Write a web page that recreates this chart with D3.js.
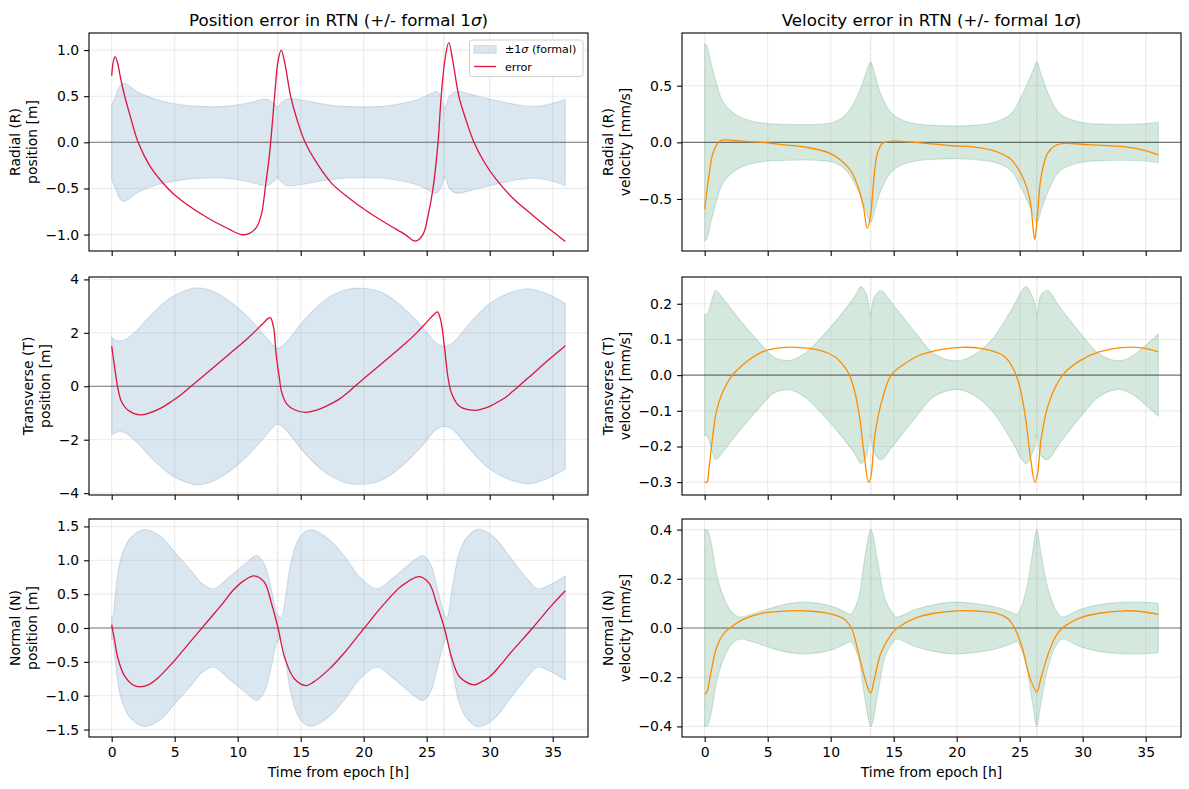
<!DOCTYPE html>
<html><head><meta charset="utf-8">
<script src="https://cdn.jsdelivr.net/npm/d3@7"></script>
<style>body{margin:0;background:#fff} text{font-family:"DejaVu Sans",sans-serif;fill:#000}</style>
</head><body><svg id="c" width="1189" height="789"></svg>
<script>
// ---------------- data (hours from epoch) ----------------
const hourTicks = [0, 5, 10, 15, 20, 25, 30, 35];
const perigeeHours = [13.18, 26.36];

// Radial position [m]
const posR_sigT = [0, 0.3, 0.6, 0.9, 1.3, 2.0, 3.0, 3.9, 5.4, 7, 9, 10.6, 11.5, 12.1, 12.5, 12.9, 13.15, 13.4, 13.9, 15.4, 17, 18.5, 21.5, 23, 24.2, 24.9, 25.5, 25.8, 26.1, 26.45, 26.8, 27.3, 28, 29.1, 30.6, 32.5, 33.7, 35.2, 36];
const posR_sig = [0.4, 0.5, 0.6, 0.64, 0.62, 0.55, 0.49, 0.45, 0.41, 0.39, 0.39, 0.42, 0.45, 0.47, 0.46, 0.42, 0.38, 0.42, 0.47, 0.45, 0.41, 0.39, 0.39, 0.42, 0.46, 0.5, 0.54, 0.55, 0.5, 0.38, 0.5, 0.55, 0.54, 0.5, 0.45, 0.4, 0.39, 0.43, 0.47];
const posR_errT = [0, 0.12, 0.27, 0.45, 0.7, 1.0, 1.5, 2.1, 3.0, 4.0, 5.0, 7.5, 9.3, 10.3, 10.9, 11.5, 11.9, 12.2, 12.5, 12.7, 12.93, 13.2, 13.45, 13.75, 14.2, 14.7, 15.35, 16.4, 17.5, 18.8, 20.3, 21.8, 23.3, 24.1, 24.7, 25.1, 25.5, 25.9, 26.15, 26.45, 26.75, 27.05, 27.55, 28.1, 28.75, 29.5, 30.5, 31.8, 33.5, 35.3, 36];
const posR_err = [0.72, 0.87, 0.93, 0.87, 0.7, 0.52, 0.27, 0, -0.25, -0.43, -0.57, -0.81, -0.94, -1.0, -0.99, -0.92, -0.77, -0.48, -0.16, 0.13, 0.5, 0.88, 1.0, 0.85, 0.5, 0.25, 0, -0.25, -0.45, -0.6, -0.75, -0.88, -1.0, -1.07, -1.0, -0.8, -0.5, 0, 0.5, 0.9, 1.08, 0.9, 0.5, 0.25, 0, -0.2, -0.4, -0.6, -0.8, -1.0, -1.075];

// Radial velocity [mm/s]
const velR_sigT = [0, 0.18, 0.5, 0.94, 1.4, 2.15, 3.06, 4.6, 6.1, 9.1, 10.3, 11.25, 12.16, 12.77, 13.16, 13.5, 14.0, 14.9, 16.1, 18.2, 21.3, 23.1, 24.3, 25.2, 26.0, 26.36, 26.7, 27.3, 28.2, 29.75, 31.9, 34.9, 36];
const velR_sig = [0.87, 0.85, 0.7, 0.52, 0.37, 0.27, 0.21, 0.17, 0.16, 0.16, 0.18, 0.25, 0.42, 0.6, 0.71, 0.6, 0.42, 0.25, 0.18, 0.15, 0.15, 0.18, 0.25, 0.42, 0.62, 0.71, 0.6, 0.42, 0.25, 0.18, 0.16, 0.165, 0.18];
const velR_errT = [0, 0.15, 0.33, 0.64, 1.1, 1.4, 2.0, 3, 4.6, 6.1, 7.9, 10.0, 11.56, 12.16, 12.6, 12.9, 13.16, 13.4, 13.7, 14.1, 14.9, 16.7, 19.7, 21.3, 23.1, 24.3, 25.2, 25.8, 26.1, 26.2, 26.4, 26.7, 27.2, 27.8, 28.5, 30.4, 33.4, 34.9, 36];
const velR_err = [-0.59, -0.45, -0.3, -0.1, 0.0, 0.02, 0.02, 0.01, 0.0, -0.02, -0.04, -0.1, -0.245, -0.39, -0.57, -0.76, -0.65, -0.35, -0.1, -0.01, 0.01, 0.0, -0.03, -0.04, -0.08, -0.15, -0.3, -0.5, -0.8, -0.86, -0.65, -0.3, -0.1, -0.03, -0.01, -0.02, -0.04, -0.07, -0.11];

// Transverse position [m]
const posT_sigT = [0, 0.25, 0.5, 1.1, 2.0, 3.3, 4.8, 6.3, 6.75, 7.8, 9.3, 10.9, 12.4, 13.15, 13.75, 15.4, 17, 18.5, 20, 21.5, 23, 24.6, 25.8, 26.4, 27, 28.5, 30, 31.6, 33.1, 34.6, 36];
const posT_sig = [1.83, 1.75, 1.7, 1.75, 2.1, 2.75, 3.35, 3.65, 3.69, 3.6, 3.2, 2.55, 1.75, 1.42, 1.6, 2.55, 3.25, 3.6, 3.67, 3.5, 3.0, 2.25, 1.6, 1.5, 1.6, 2.4, 3.1, 3.5, 3.65, 3.45, 3.1];
const posT_errT = [0, 0.2, 0.36, 0.5, 0.8, 1.3, 2.2, 3.0, 3.9, 4.8, 5.6, 6.3, 7.7, 9.2, 10.8, 11.9, 12.45, 12.6, 12.85, 13.05, 13.3, 13.5, 13.9, 14.5, 15.4, 16.2, 17, 18, 18.7, 19.3, 20.3, 21.3, 22.3, 23.3, 24.2, 25.0, 25.6, 25.85, 26.1, 26.4, 26.7, 27, 27.6, 28.8, 29.4, 30.0, 30.6, 31.3, 31.8, 32.3, 33.5, 34.7, 36];
const posT_err = [1.5, 0.82, 0.3, -0.1, -0.6, -0.9, -1.07, -1.0, -0.82, -0.55, -0.28, 0.0, 0.55, 1.15, 1.8, 2.3, 2.55, 2.57, 2.2, 1.2, 0.33, -0.24, -0.67, -0.88, -0.98, -0.9, -0.75, -0.5, -0.25, 0.0, 0.4, 0.8, 1.2, 1.6, 2.0, 2.4, 2.7, 2.78, 2.5, 1.5, 0.3, -0.3, -0.75, -0.9, -0.85, -0.75, -0.6, -0.4, -0.2, 0.0, 0.5, 1.0, 1.52];

// Transverse velocity [mm/s]
const velT_sigT = [0, 0.18, 0.64, 0.88, 1.55, 3.06, 4.58, 5.5, 6.7, 7.9, 9.1, 10.6, 11.9, 12.4, 12.8, 13.0, 13.16, 13.3, 13.5, 14.0, 14.9, 16.7, 18.2, 20.0, 21.3, 22.8, 24.3, 25.5, 26.0, 26.2, 26.36, 26.5, 26.7, 27.2, 28.2, 29.75, 31.3, 32.9, 34, 35.2, 36];
const velT_sig = [0.17, 0.17, 0.22, 0.237, 0.21, 0.143, 0.082, 0.05, 0.041, 0.06, 0.1, 0.16, 0.22, 0.248, 0.23, 0.2, 0.165, 0.2, 0.22, 0.237, 0.2, 0.12, 0.06, 0.04, 0.055, 0.1, 0.18, 0.248, 0.22, 0.2, 0.165, 0.2, 0.225, 0.237, 0.19, 0.12, 0.06, 0.04, 0.055, 0.09, 0.115];
const velT_errT = [0, 0.18, 0.35, 0.64, 0.94, 1.4, 2.2, 3.06, 4.58, 6.1, 7.3, 9.1, 10.3, 10.9, 11.35, 11.7, 12.0, 12.3, 12.65, 13.0, 13.16, 13.5, 14.0, 14.8, 15.8, 17, 18.8, 20.35, 21.9, 23.7, 24.2, 24.6, 24.9, 25.2, 25.5, 25.85, 26.2, 26.4, 26.7, 27.3, 28.4, 29.75, 31.3, 33.4, 34.9, 36];
const velT_err = [-0.3, -0.3, -0.26, -0.17, -0.1, -0.05, 0.0, 0.03, 0.065, 0.077, 0.078, 0.07, 0.052, 0.032, 0.01, -0.02, -0.06, -0.12, -0.22, -0.3, -0.29, -0.17, -0.08, 0.0, 0.03, 0.055, 0.072, 0.078, 0.075, 0.055, 0.035, 0.01, -0.02, -0.065, -0.13, -0.23, -0.3, -0.28, -0.18, -0.08, 0.0, 0.04, 0.065, 0.078, 0.075, 0.065];

// Normal position [m]
const posN_sigT = [0, 0.1, 0.2, 0.5, 0.8, 1.4, 2.3, 2.8, 3.9, 5.1, 6.3, 7.2, 8.1, 9.3, 10.6, 11.5, 12.1, 12.7, 13.15, 13.45, 13.75, 14.2, 14.8, 15.4, 15.9, 17.3, 18.5, 19.7, 21.05, 22.4, 24.0, 24.7, 25.3, 25.9, 26.4, 26.6, 27.0, 27.6, 28.2, 29.1, 30.3, 31.6, 33.1, 33.8, 34.9, 36];
const posN_sig = [0.19, 0.16, 0.33, 0.82, 1.07, 1.31, 1.44, 1.45, 1.35, 1.1, 0.85, 0.65, 0.58, 0.75, 0.95, 1.07, 0.95, 0.55, 0.2, 0.15, 0.4, 0.95, 1.3, 1.43, 1.45, 1.3, 1.05, 0.75, 0.58, 0.75, 1.0, 1.07, 0.95, 0.55, 0.2, 0.15, 0.57, 1.12, 1.34, 1.46, 1.35, 1.05, 0.7, 0.58, 0.65, 0.77];
const posN_errT = [0, 0.2, 0.5, 1.0, 1.6, 2.2, 2.9, 3.6, 4.8, 5.8, 6.8, 7.8, 8.8, 9.6, 10.5, 11.3, 12.1, 12.7, 13.2, 13.75, 14.5, 15.4, 16.0, 17.3, 18.4, 19.4, 20.05, 21.5, 23, 24.4, 25.2, 25.8, 26.4, 27, 27.6, 28.7, 29.3, 30.0, 30.8, 31.6, 33.4, 34.9, 36];
const posN_err = [0.05, -0.15, -0.45, -0.7, -0.83, -0.87, -0.84, -0.75, -0.52, -0.3, -0.08, 0.14, 0.36, 0.55, 0.7, 0.77, 0.68, 0.35, 0.0, -0.45, -0.75, -0.85, -0.8, -0.6, -0.38, -0.15, 0.0, 0.33, 0.62, 0.76, 0.66, 0.35, 0.0, -0.45, -0.72, -0.84, -0.8, -0.72, -0.56, -0.38, 0.0, 0.33, 0.55];

// Normal velocity [mm/s]
const velN_sigT = [0, 0.18, 0.5, 0.94, 1.55, 2.15, 2.76, 3.7, 5.2, 6.7, 7.9, 9.1, 10.3, 11.25, 11.6, 12.2, 12.6, 13.2, 13.7, 14.3, 14.9, 15.2, 16.7, 18.2, 19.7, 21.3, 23.1, 24.3, 24.8, 25.5, 26.0, 26.36, 26.7, 27.3, 27.9, 28.4, 29.75, 31.3, 33.4, 34.9, 36];
const velN_sig = [0.4, 0.4, 0.35, 0.22, 0.12, 0.065, 0.045, 0.055, 0.08, 0.1, 0.105, 0.1, 0.085, 0.062, 0.057, 0.12, 0.25, 0.4, 0.28, 0.12, 0.06, 0.045, 0.075, 0.095, 0.105, 0.1, 0.085, 0.065, 0.057, 0.15, 0.3, 0.4, 0.3, 0.15, 0.07, 0.045, 0.075, 0.095, 0.105, 0.105, 0.1];
const velN_errT = [0, 0.18, 0.5, 0.94, 1.55, 2.0, 3.06, 4.6, 6.7, 8.5, 9.7, 10.95, 11.3, 11.65, 12.2, 12.8, 13.16, 13.5, 14.0, 14.9, 15.3, 16.7, 18.2, 20, 21.9, 23.1, 24.0, 24.3, 24.6, 25.2, 25.8, 26.36, 26.7, 27.3, 27.9, 28.4, 29.75, 31.3, 33.4, 34.9, 36];
const velN_err = [-0.27, -0.26, -0.18, -0.08, -0.02, 0.0, 0.035, 0.06, 0.07, 0.068, 0.06, 0.04, 0.025, 0.0, -0.1, -0.22, -0.265, -0.2, -0.1, -0.02, 0.0, 0.04, 0.06, 0.07, 0.068, 0.06, 0.04, 0.025, 0.0, -0.08, -0.2, -0.26, -0.2, -0.1, -0.03, 0.0, 0.04, 0.06, 0.07, 0.065, 0.055];

// axis ticks
const posR_ticks = [-1.0, -0.5, 0.0, 0.5, 1.0];
const velR_ticks = [-0.5, 0.0, 0.5];
const posT_ticks = [-4, -2, 0, 2, 4];
const velT_ticks = [-0.3, -0.2, -0.1, 0.0, 0.1, 0.2];
const posN_ticks = [-1.5, -1.0, -0.5, 0.0, 0.5, 1.0, 1.5];
const velN_ticks = [-0.4, -0.2, 0.0, 0.2, 0.4];

const titles = ["Position error in RTN (+/- formal 1", "Velocity error in RTN (+/- formal 1"];
const xLabel = "Time from epoch [h]";

// ---------------- layout ----------------
const svg = d3.select("#c");
const colLeft = [89, 682], colW = 499;
const rowTop = [33, 277, 519], rowH = 218;

const panels = [
  {col:0,row:0,sigT:posR_sigT,sig:posR_sig,errT:posR_errT,err:posR_err,dom:[-1.178,1.185],ticks:posR_ticks,fmt:".1f",lab:["Radial (R)","position [m]"]},
  {col:1,row:0,sigT:velR_sigT,sig:velR_sig,errT:velR_errT,err:velR_err,dom:[-0.959,0.965],ticks:velR_ticks,fmt:".1f",lab:["Radial (R)","velocity [mm/s]"]},
  {col:0,row:1,sigT:posT_sigT,sig:posT_sig,errT:posT_errT,err:posT_err,dom:[-4.07,4.09],ticks:posT_ticks,fmt:"d",lab:["Transverse (T)","position [m]"]},
  {col:1,row:1,sigT:velT_sigT,sig:velT_sig,errT:velT_errT,err:velT_err,dom:[-0.336,0.275],ticks:velT_ticks,fmt:".1f",lab:["Transverse (T)","velocity [mm/s]"]},
  {col:0,row:2,sigT:posN_sigT,sig:posN_sig,errT:posN_errT,err:posN_err,dom:[-1.61,1.61],ticks:posN_ticks,fmt:".1f",lab:["Normal (N)","position [m]"]},
  {col:1,row:2,sigT:velN_sigT,sig:velN_sig,errT:velN_errT,err:velN_err,dom:[-0.443,0.443],ticks:velN_ticks,fmt:".1f",lab:["Normal (N)","velocity [mm/s]"]}
];
const bandColor = ["steelblue", "seagreen"];
const lineColor = ["crimson", "darkorange"];
const TICK = 13.9;
const smooth = d3.curveCatmullRom.alpha(0.5);

panels.forEach((p, i) => {
  const L = colLeft[p.col], T = rowTop[p.row];
  const x = d3.scaleLinear().domain([-1.8, 37.8]).range([L, L + colW]);
  const y = d3.scaleLinear().domain(p.dom).range([T + rowH, T]);
  const g = svg.append("g");
  const cid = "clip" + i;
  svg.append("clipPath").attr("id", cid).append("rect").attr("x", L).attr("y", T).attr("width", colW).attr("height", rowH);
  const plot = g.append("g").attr("clip-path", `url(#${cid})`);

  // band
  const band = p.sigT.map((t, k) => ({t, s: p.sig[k]}));
  plot.append("path").datum(band)
    .attr("d", d3.area().x(d => x(d.t)).y0(d => y(-d.s)).y1(d => y(d.s)).curve(smooth))
    .attr("fill", bandColor[p.col]).attr("fill-opacity", 0.2)
    .attr("stroke", bandColor[p.col]).attr("stroke-opacity", 0.2).attr("stroke-width", 1.1);

  // grid
  plot.selectAll(".gx").data(hourTicks).join("line")
    .attr("x1", d => x(d)).attr("x2", d => x(d)).attr("y1", T).attr("y2", T + rowH)
    .attr("stroke", "#b0b0b0").attr("stroke-opacity", 0.35).attr("stroke-width", 0.8);
  plot.selectAll(".gy").data(p.ticks).join("line")
    .attr("x1", L).attr("x2", L + colW).attr("y1", d => y(d)).attr("y2", d => y(d))
    .attr("stroke", "#b0b0b0").attr("stroke-opacity", 0.35).attr("stroke-width", 0.8);

  // zero line
  plot.append("line").attr("x1", L).attr("x2", L + colW).attr("y1", y(0)).attr("y2", y(0))
    .attr("stroke", "#000").attr("stroke-opacity", 0.5).attr("stroke-width", 1.1);
  // perigee markers
  plot.selectAll(".pv").data(perigeeHours).join("line")
    .attr("x1", d => x(d)).attr("x2", d => x(d)).attr("y1", T).attr("y2", T + rowH)
    .attr("stroke", "#808080").attr("stroke-opacity", 0.8).attr("stroke-width", 0.8).attr("stroke-dasharray", "0.8,1.4");

  // error line
  const errPts = p.errT.map((t, k) => [t, p.err[k]]);
  plot.append("path").datum(errPts)
    .attr("d", d3.line().x(d => x(d[0])).y(d => y(d[1])).curve(smooth))
    .attr("fill", "none").attr("stroke", lineColor[p.col]).attr("stroke-width", 1.3);

  // axes
  const ya = g.append("g").attr("transform", `translate(${L},0)`)
    .call(d3.axisLeft(y).tickValues(p.ticks).tickSize(4.9).tickPadding(4.9).tickFormat(d3.format(p.fmt)));
  ya.select(".domain").remove();
  ya.selectAll("line").attr("stroke", "#000").attr("stroke-width", 1.1);
  ya.selectAll("text").attr("font-size", TICK).attr("font-family", "DejaVu Sans");
  const xa = g.append("g").attr("transform", `translate(0,${T + rowH})`)
    .call(d3.axisBottom(x).tickValues(hourTicks).tickSize(4.9).tickPadding(4.9).tickFormat(p.row === 2 ? d3.format("d") : () => ""));
  xa.select(".domain").remove();
  xa.selectAll("line").attr("stroke", "#000").attr("stroke-width", 1.1);
  xa.selectAll("text").attr("font-size", TICK).attr("font-family", "DejaVu Sans");

  g.append("rect").attr("x", L).attr("y", T).attr("width", colW).attr("height", rowH)
    .attr("fill", "none").attr("stroke", "#000").attr("stroke-width", 1.1);

  // y label (two lines), placed left of tick labels
  const bb = ya.node().getBBox();
  const edge = L + bb.x - 5.6;
  const cy = T + rowH / 2;
  const base2 = edge - 3.3, base1 = base2 - 16.7;
  [[p.lab[0], base1], [p.lab[1], base2]].forEach(([s, bx]) => {
    g.append("text").attr("transform", `translate(${bx},${cy}) rotate(-90)`)
      .attr("text-anchor", "middle").attr("font-size", TICK).text(s);
  });

  if (p.row === 2) {
    g.append("text").attr("x", L + colW / 2).attr("y", 776.5).attr("text-anchor", "middle")
      .attr("font-size", TICK).text(xLabel);
  }
  if (p.row === 0) {
    const t = g.append("text").attr("x", L + colW / 2).attr("y", 25.5).attr("text-anchor", "middle").attr("font-size", 16.7);
    t.append("tspan").text(titles[p.col]);
    t.append("tspan").attr("font-style", "italic").text("σ");
    t.append("tspan").text(")");
  }

  if (i === 0) {
    const lg = g.append("g");
    lg.append("rect").attr("x", 469.5).attr("y", 40).attr("width", 113.5).attr("height", 36.5).attr("rx", 2.5)
      .attr("fill", "#fff").attr("fill-opacity", 0.8).attr("stroke", "#d0d0d0").attr("stroke-width", 1);
    lg.append("rect").attr("x", 474).attr("y", 45.5).attr("width", 22.2).attr("height", 7.8)
      .attr("fill", "steelblue").attr("fill-opacity", 0.2).attr("stroke", "steelblue").attr("stroke-opacity", 0.2);
    const t1 = lg.append("text").attr("x", 505).attr("y", 53.2).attr("font-size", 11.1);
    t1.append("tspan").text("±1");
    t1.append("tspan").attr("font-style", "italic").text("σ");
    t1.append("tspan").text(" (formal)");
    lg.append("line").attr("x1", 474).attr("x2", 496.2).attr("y1", 66.5).attr("y2", 66.5)
      .attr("stroke", "crimson").attr("stroke-width", 1.3);
    lg.append("text").attr("x", 505).attr("y", 70.5).attr("font-size", 11.1).text("error");
  }
});
</script></body></html>
